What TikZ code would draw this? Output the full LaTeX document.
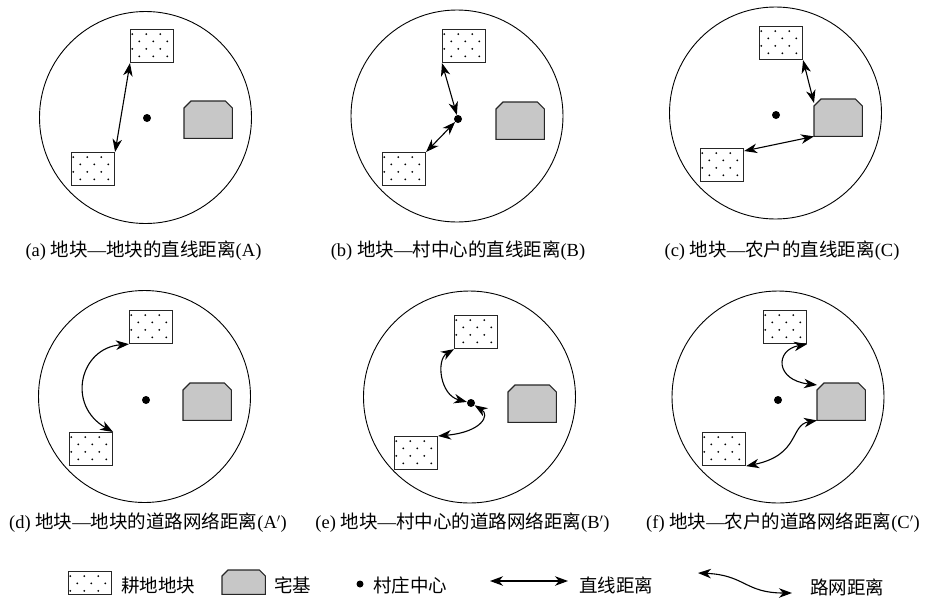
\documentclass[tikz,border=0pt]{standalone}
\usepackage{fontspec}
\setmainfont{Liberation Serif}
\newfontfamily\cjk{Noto Sans CJK SC}
\usetikzlibrary{arrows.meta,calc}
\newcommand\drawhouse[2]{\draw[housefill] (#1.south west) -- ($(#1.north west)+(0,#2)$) -- ($(#1.north west)+(#2,0)$) -- ($(#1.north east)+(-#2,0)$) -- ($(#1.north east)+(0,#2)$) -- (#1.south east) -- cycle;}
\begin{document}
\begin{tikzpicture}[x=1pt,y=-1pt,
  ring/.style={circle, draw, line width=0.9pt, minimum size=212pt, inner sep=0pt},
  plotbox/.style={draw=black!85, line width=1.1pt, fill=white, minimum width=43pt, minimum height=33pt, inner sep=0pt, anchor=north west,
    path picture={
      \foreach \r in {0,...,4}{\foreach \c in {0,...,3}{
        \fill[black] ($(path picture bounding box.north west)+({1.7+\c*14+mod(\r,2)*7},{4.5+\r*7.4})$) circle (1pt);}}}},
  housebox/.style={minimum width=48pt, minimum height=37pt, inner sep=0pt, anchor=north west},
  housefill/.style={draw=black!85, line width=1.1pt, fill=black!22},
  dot/.style={circle, fill=black, minimum size=8pt, inner sep=0pt},
  link/.style={arrows={Stealth[length=13pt,width=9.5pt,inset=4pt]-Stealth[length=13pt,width=9.5pt,inset=4pt]}, line width=1.1pt},
  captext/.style={font=\fontsize{18.5}{20}\selectfont, inner sep=0pt},
  lab/.style={font=\cjk\fontsize{18.5}{20}\selectfont, inner sep=0pt, anchor=west}]
\useasboundingbox (0,0) rectangle (927,598);
% (a)
\node[ring] (ra) at (145.5,117.5) {};
\node[plotbox] (a1) at (130,29) {};
\node[plotbox] (a2) at (71,152) {};
\node[housebox] (ah) at (184,101) {};
\drawhouse{ah}{7}
\node[dot] (ad) at (147,118) {};
\draw[link] (a1.south west) -- (a2.north east);
\node[captext] (ca) at (143.5,251) {(a) {\cjk 地块}—{\cjk 地块的直线距离}(A)};
% (b)
\node[ring] (rb) at (457,116) {};
\node[plotbox] (b1) at (442,29) {};
\node[plotbox] (b2) at (382,152) {};
\node[housebox] (bh) at (496,102) {};
\drawhouse{bh}{7}
\node[dot] (bd) at (458,119) {};
\draw[link] (b1.south west) -- (bd);
\draw[link] (b2.north east) -- (bd);
\node[captext] (cb) at (458,251) {(b) {\cjk 地块}—{\cjk 村中心的直线距离}(B)};
% (c)
\node[ring] (rc) at (775.5,113) {};
\node[plotbox] (c1) at (759,26) {};
\node[plotbox] (c2) at (700,148) {};
\node[housebox] (ch) at (814,99) {};
\drawhouse{ch}{7}
\node[dot] (cd) at (776,115) {};
\draw[link] (c1.south east) -- ($(ch.north west)+(0,4)$);
\draw[link] ($(c2.north east)+(0,3)$) -- (ch.south west);
\node[captext] (cc) at (782,251) {(c) {\cjk 地块}—{\cjk 农户的直线距离}(C)};
% (d)
\node[ring] (rd) at (144.5,396.5) {};
\node[plotbox] (d1) at (129,310) {};
\node[plotbox] (d2) at (69,432) {};
\node[housebox] (dh) at (183,383) {};
\drawhouse{dh}{7}
\node[dot] (dd) at (146,400) {};
\draw[link] (d1.south west) .. controls (80,348) and (66,405) .. (d2.north east);
\node[captext] (cd2) at (148,523) {(d) {\cjk 地块}—{\cjk 地块的道路网络距离}(A$'$)};
% (e)
\node[ring] (re) at (469.5,397) {};
\node[plotbox] (e1) at (454,315) {};
\node[plotbox] (e2) at (394,436) {};
\node[housebox] (eh) at (508,385) {};
\drawhouse{eh}{7}
\node[dot] (ed) at (471,403) {};
\draw[link] (e1.south west) .. controls (436,360) and (440,395) .. (ed);
\draw[link] (ed) .. controls (490,415) and (482,432) .. (e2.north east);
\node[captext] (ce) at (462.5,523) {(e) {\cjk 地块}—{\cjk 村中心的道路网络距离}(B$'$)};
% (f)
\node[ring] (rf) at (778,397) {};
\node[plotbox] (f1) at (763,310) {};
\node[plotbox] (f2) at (702,432) {};
\node[housebox] (fh) at (817,383) {};
\drawhouse{fh}{7}
\node[dot] (fd) at (778,400) {};
\draw[link] (f1.south east) .. controls (775,350) and (775,380) .. ($(fh.north west)+(0,2)$);
\draw[link] (f2.south east) .. controls (800,455) and (790,425) .. (fh.south west);
\node[captext] (cf) at (783,523) {(f) {\cjk 地块}—{\cjk 农户的道路网络距离}(C$'$)};
% legend
\node[plotbox, minimum height=23pt] (lp) at (68,571) {};
\node[lab] (lpt) at (121,585) {耕地地块};
\node[housebox, minimum width=43pt, minimum height=24pt] (lh) at (222,570) {};
\drawhouse{lh}{6}
\node[lab] (lht) at (274,585) {宅基};
\node[dot, minimum size=7pt] (ld) at (360,584) {};
\node[lab] (ldt) at (373,585) {村庄中心};
\coordinate (s1) at (490,581);
\coordinate (s2) at (568,581);
\draw[link] (s1) -- (s2);
\node[lab] (lst) at (579,585) {直线距离};
\coordinate (w1) at (698,573);
\coordinate (w2) at (792,593);
\draw[link] (w1) .. controls (745,575) and (745,593) .. (w2);
\node[lab] (lwt) at (810,587) {路网距离};
\end{tikzpicture}
\end{document}
